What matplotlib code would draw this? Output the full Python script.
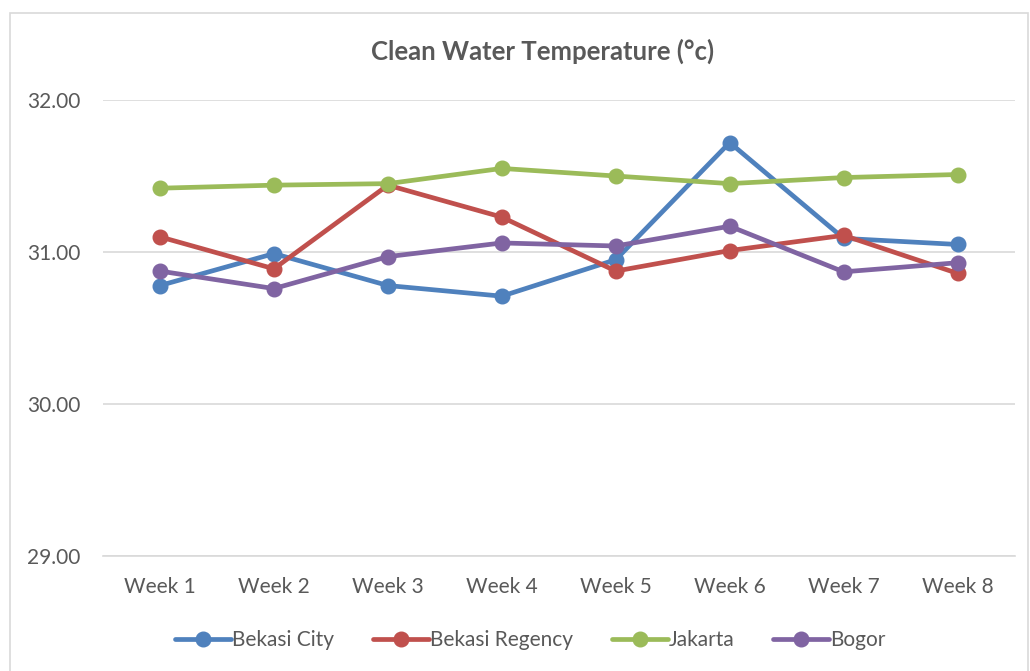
import matplotlib
matplotlib.use("Agg")
import matplotlib.pyplot as plt
from matplotlib.patches import Rectangle

plt.rcParams["font.family"] = ["Lato", "DejaVu Sans"]

weeks = ["Week 1", "Week 2", "Week 3", "Week 4", "Week 5", "Week 6", "Week 7", "Week 8"]
bekasi_city = [30.78, 30.99, 30.78, 30.71, 30.95, 31.72, 31.09, 31.05]
bekasi_regency = [31.10, 30.89, 31.44, 31.23, 30.875, 31.01, 31.11, 30.86]
jakarta = [31.42, 31.44, 31.45, 31.55, 31.50, 31.45, 31.49, 31.51]
bogor = [30.875, 30.76, 30.97, 31.06, 31.04, 31.17, 30.87, 30.93]

series = [
    ("Bekasi City", bekasi_city, "#4F81BD"),
    ("Bekasi Regency", bekasi_regency, "#C0504D"),
    ("Jakarta", jakarta, "#9BBB59"),
    ("Bogor", bogor, "#8064A2"),
]

fig = plt.figure(figsize=(10.30, 6.71), dpi=100)
ax = fig.add_axes([0.1, 0.171, 0.885, 0.680])

x = list(range(len(weeks)))
for name, vals, col in series:
    ax.plot(x, vals, "-o", color=col, linewidth=3.4, markersize=10.5,
            solid_capstyle="round", label=name)

ax.set_ylim(29, 32)
ax.set_yticks([29, 30, 31, 32])
ax.set_yticklabels([f"{v:.2f}" for v in [29, 30, 31, 32]])
ax.set_xlim(-0.5, len(weeks) - 0.5)
ax.set_xticks(x)
ax.set_xticklabels(weeks)
ax.tick_params(axis="both", length=0, labelsize=15, labelcolor="#595959")
ax.tick_params(axis="x", pad=15)
ax.tick_params(axis="y", pad=16)
ax.grid(axis="y", color="#D9D9D9", linewidth=1.2)
ax.set_axisbelow(True)
for s in ["top", "right", "left"]:
    ax.spines[s].set_visible(False)
ax.spines["bottom"].set_color("#D9D9D9")
ax.spines["bottom"].set_linewidth(1.2)

fig.text(0.527, 0.923, "Clean Water Temperature (°c)", ha="center", va="center",
         fontsize=18.5, fontweight="bold", color="#595959")

fig.legend(loc="center", bbox_to_anchor=(0.515, 0.046), ncol=4, frameon=False,
           fontsize=15, labelcolor="#595959", handlelength=2.7, handletextpad=0.05,
           columnspacing=1.85)

fig.patches.append(Rectangle((0.0097, -0.01), 0.988, 0.99, transform=fig.transFigure,
                             fill=False, edgecolor="#D9D9D9", linewidth=1.2))

fig.savefig("out.png", dpi=100)
